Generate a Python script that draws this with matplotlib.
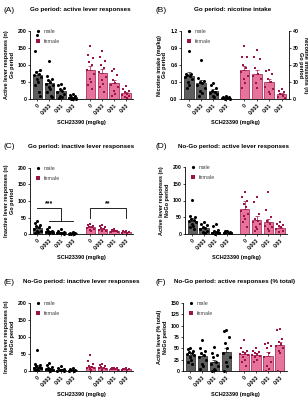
import matplotlib
matplotlib.use("Agg")
import matplotlib.pyplot as plt
from matplotlib.lines import Line2D
import numpy as np

plt.rcParams['font.family'] = ['Liberation Sans', 'DejaVu Sans']

doses = ["0", "0.003", "0.01", "0.03"]
sexes = ["male", "female"]

# ---- Panel A: Go active lever
A_mean_m = [72, 48, 24, 5]
A_mean_f = [86, 77, 47, 18]
A_sem_m = [10, 9, 4, 1.5]
A_sem_f = [12, 11, 8, 4]
A_pts_m = [[188, 142, 85, 80, 75, 72, 65, 58, 50, 40, 20, 8],
           [112, 68, 60, 55, 50, 45, 40, 35, 30, 20, 10, 5],
           [45, 40, 32, 28, 25, 20, 15, 10, 5, 2],
           [15, 12, 8, 5, 3, 2, 1, 0, 0, 0]]
A_pts_f = [[157, 128, 122, 110, 100, 85, 75, 60, 50, 40, 30],
           [142, 125, 112, 100, 90, 80, 65, 55, 45, 35, 20],
           [88, 82, 70, 55, 48, 40, 35, 25, 15, 10],
           [38, 30, 25, 20, 15, 12, 8, 5, 3]]

# ---- Panel B: Go nicotine intake
B_mean_m = [0.41, 0.28, 0.14, 0.02]
B_mean_f = [0.51, 0.45, 0.30, 0.09]
B_sem_m = [0.06, 0.05, 0.03, 0.01]
B_sem_f = [0.07, 0.06, 0.05, 0.02]
B_pts_m = [[0.85, 0.45, 0.44, 0.42, 0.40, 0.38, 0.35, 0.30, 0.25, 0.20],
           [0.69, 0.37, 0.32, 0.30, 0.28, 0.25, 0.20, 0.15, 0.10, 0.05],
           [0.28, 0.25, 0.20, 0.15, 0.12, 0.10, 0.08, 0.05, 0.03],
           [0.06, 0.04, 0.03, 0.02, 0.01, 0.01, 0.0, 0.0]]
B_pts_f = [[0.93, 0.75, 0.74, 0.60, 0.55, 0.48, 0.40, 0.35, 0.28, 0.20],
           [0.87, 0.75, 0.70, 0.55, 0.45, 0.40, 0.35, 0.28, 0.20],
           [0.52, 0.50, 0.45, 0.35, 0.30, 0.22, 0.18, 0.12, 0.08],
           [0.17, 0.15, 0.12, 0.08, 0.05, 0.03, 0.02]]

# ---- Panel C: Go inactive lever
C_mean_m = [17, 8, 5, 2]
C_mean_f = [20, 16, 10, 6]
C_sem_m = [3, 2, 1.5, 0.5]
C_sem_f = [3, 3, 1.5, 1]
C_pts_m = [[38, 32, 28, 25, 20, 15, 10, 8, 5, 3],
           [22, 15, 10, 8, 6, 5, 3, 2],
           [15, 10, 6, 4, 3, 2, 1],
           [5, 3, 2, 1, 1, 0]]
C_pts_f = [[30, 28, 25, 22, 20, 18, 15, 12, 10],
           [28, 25, 20, 18, 15, 12, 10, 8],
           [15, 12, 10, 9, 8, 7, 5],
           [10, 8, 7, 5, 4, 3]]

# ---- Panel D: NoGo active lever
D_mean_m = [40, 18, 7, 5]
D_mean_f = [75, 42, 35, 18]
D_sem_m = [8, 4, 3, 1]
D_sem_f = [25, 11, 11, 4]
D_pts_m = [[101, 55, 50, 45, 42, 38, 35, 30, 25, 20, 15],
           [35, 30, 28, 22, 18, 15, 10, 5, 3],
           [30, 25, 12, 8, 5, 3, 2, 1],
           [10, 8, 6, 5, 4, 3, 2]]
D_pts_f = [[125, 110, 100, 90, 80, 70, 60, 55, 45, 35, 20],
           [110, 95, 60, 45, 40, 35, 30, 20, 15, 10],
           [125, 72, 51, 40, 30, 25, 20, 15, 10],
           [35, 30, 28, 25, 20, 15, 10, 5]]

# ---- Panel E: NoGo inactive lever
E_mean_m = [12, 7, 4, 2]
E_mean_f = [12, 10, 7, 5]
E_sem_m = [6, 2, 1.5, 1]
E_sem_f = [4, 2, 1, 1]
E_pts_m = [[62, 20, 18, 15, 12, 10, 8, 5, 3, 2],
           [25, 18, 12, 8, 6, 5, 3, 2, 1],
           [16, 8, 5, 3, 2, 1, 0],
           [8, 5, 3, 2, 1, 0]]
E_pts_f = [[46, 28, 20, 15, 12, 10, 8, 5, 3],
           [22, 18, 15, 12, 10, 8, 5, 3],
           [10, 9, 8, 7, 6, 5, 4],
           [8, 7, 6, 5, 4, 3]]

# ---- Panel F: NoGo active responses (% total)
F_mean_m = [35, 32, 19, 41]
F_mean_f = [37, 36, 34, 57]
F_sem_m = [4, 6, 5, 10]
F_sem_f = [5, 4, 7, 8]
F_pts_m = [[50, 48, 45, 42, 40, 38, 35, 30, 25, 20, 15],
           [68, 50, 45, 40, 35, 30, 25, 15, 10, 5],
           [52, 40, 35, 30, 20, 15, 10, 5, 2, 0],
           [90, 88, 75, 62, 50, 40, 30, 20, 10, 0]]
F_pts_f = [[68, 50, 45, 42, 40, 38, 35, 30, 25, 20, 10],
           [50, 45, 42, 40, 38, 35, 32, 30, 25, 20],
           [62, 60, 55, 50, 40, 30, 20, 10, 5, 0],
           [93, 90, 70, 65, 60, 55, 50, 45, 40, 0]]

titles = ["Go period: active lever responses",
          "Go period: nicotine intake",
          "Go period: inactive lever responses",
          "No-Go period: active lever responses",
          "No-Go period: inactive lever responses",
          "No-Go period: active responses (% total)"]
ylabels = ["Active lever responses (n)\nGo period",
           "Nicotine intake (mg/kg)\nGo period",
           "Inactive lever responses (n)\nGo period",
           "Active lever responses (n)\nNoGo period",
           "Inactive lever responses (n)\nNoGo period",
           "Active lever (% total)\nNoGo period"]
letters = ["(A)", "(B)", "(C)", "(D)", "(E)", "(F)"]
xlabel = "SCH23390 (mg/kg)"
B_right_label = "Nicotine infusions (n)\nGo period"
B_right_ticks = [0, 10, 20, 30, 40]
C_stars = ["***", "**"]

yticks_list = [[0, 50, 100, 150, 200],
               [0.0, 0.3, 0.6, 0.9, 1.2],
               [0, 50, 100, 150, 200],
               [0, 50, 100, 150, 200],
               [0, 50, 100, 150, 200],
               [0, 25, 50, 75, 100, 125, 150]]
ytick_fmt = [None, "{:.1f}", None, None, None, None]

panels = [
    (A_mean_m, A_mean_f, A_sem_m, A_sem_f, A_pts_m, A_pts_f),
    (B_mean_m, B_mean_f, B_sem_m, B_sem_f, B_pts_m, B_pts_f),
    (C_mean_m, C_mean_f, C_sem_m, C_sem_f, C_pts_m, C_pts_f),
    (D_mean_m, D_mean_f, D_sem_m, D_sem_f, D_pts_m, D_pts_f),
    (E_mean_m, E_mean_f, E_sem_m, E_sem_f, E_pts_m, E_pts_f),
    (F_mean_m, F_mean_f, F_sem_m, F_sem_f, F_pts_m, F_pts_f),
]

W, H = 308, 400
fig = plt.figure(figsize=(W / 100, H / 100), dpi=100)

# axes boxes in pixels: left, top, right, bottom
boxes = [(30, 31, 133, 99), (181, 31, 289, 99),
         (30, 168, 133, 234), (185, 167, 287, 234),
         (30, 303, 133, 371), (183, 303, 287, 371)]
title_y = [10, 10, 147, 147, 282, 282]
title_x = [80, 233, 81, 234, 81, 235]

male_bar = "#5e5e5e"
male_edge = "#222222"
male_pt = "#000000"
fem_bar = "#e5739c"
fem_edge = "#a0164a"
fem_pt = "#9a1446"

pos_m = np.array([0, 1, 2, 3])
pos_f = np.array([4.5, 5.5, 6.5, 7.5])
offs = [0, -0.22, 0.22, -0.11, 0.11, -0.3, 0.3, -0.05, 0.05, -0.17, 0.17, 0.25]

tick_fs = 3.7
lab_fs = 4.0
title_fs = 4.5

for i, (ax_box, data) in enumerate(zip(boxes, panels)):
    l, t, r, b = ax_box
    ax = fig.add_axes([l / W, 1 - b / H, (r - l) / W, (b - t) / H])
    mm, mf, sm, sf, pm, pf = data
    ax.bar(pos_m, mm, width=0.78, color=male_bar, edgecolor=male_edge, linewidth=0.5, zorder=2)
    ax.bar(pos_f, mf, width=0.78, color=fem_bar, edgecolor=fem_edge, linewidth=0.5, zorder=2)
    ax.errorbar(pos_m, mm, yerr=[np.zeros(4), sm], fmt='none', ecolor=male_edge,
                elinewidth=0.5, capsize=1.2, capthick=0.5, zorder=3)
    ax.errorbar(pos_f, mf, yerr=[np.zeros(4), sf], fmt='none', ecolor=fem_edge,
                elinewidth=0.5, capsize=1.2, capthick=0.5, zorder=3)
    for k in range(4):
        ys = pm[k]
        xs = [pos_m[k] + offs[j % len(offs)] for j in range(len(ys))]
        ax.plot(xs, ys, 'o', color=male_pt, ms=2.2, mew=0, zorder=4, clip_on=False)
        ys = pf[k]
        xs = [pos_f[k] + offs[j % len(offs)] for j in range(len(ys))]
        ax.plot(xs, ys, 's', color=fem_pt, ms=2.0, mew=0, zorder=4, clip_on=False)

    yt = yticks_list[i]
    ax.set_ylim(yt[0], yt[-1])
    ax.set_yticks(yt)
    if ytick_fmt[i]:
        ax.set_yticklabels([ytick_fmt[i].format(v) for v in yt])
    ax.set_xlim(-0.62, 8.1)
    ax.set_xticks(list(pos_m) + list(pos_f))
    ax.set_xticklabels(doses + doses, rotation=45, ha='right', rotation_mode='anchor')
    ax.tick_params(axis='both', labelsize=tick_fs, width=0.5, length=1.5, pad=1)
    ax.tick_params(axis='x', pad=1.5)
    for lab in ax.get_xticklabels() + ax.get_yticklabels():
        lab.set_fontweight('bold')
    for s in ['top', 'right']:
        ax.spines[s].set_visible(False)
    for s in ['left', 'bottom']:
        ax.spines[s].set_linewidth(0.6)
    ax.set_ylabel(ylabels[i], fontsize=lab_fs, fontweight='bold', labelpad=2, linespacing=1.1)
    ax.set_xlabel(xlabel, fontsize=lab_fs, fontweight='bold', labelpad=2.5)

    handles = [Line2D([], [], marker='o', ls='none', color=male_pt, ms=2.3, mew=0),
               Line2D([], [], marker='s', ls='none', color=fem_pt, ms=2.3, mew=0)]
    leg = ax.legend(handles, sexes, loc='upper left', bbox_to_anchor=(0.03, 1.06),
                    frameon=False, fontsize=3.9, labelspacing=0.9, handletextpad=0.6,
                    handlelength=1.0, borderaxespad=0)
    for txt in leg.get_texts():
        txt.set_color("#444444")

    fig.text(title_x[i] / W, 1 - title_y[i] / H, titles[i], fontsize=title_fs,
             fontweight='bold', ha='center', va='center')
    fig.text((3 if i % 2 == 0 else 155) / W, 1 - title_y[i] / H, letters[i],
             fontsize=6, ha='left', va='center')

    if i == 1:
        ax2 = ax.twinx()
        ax2.set_ylim(B_right_ticks[0], B_right_ticks[-1])
        ax2.set_yticks(B_right_ticks)
        ax2.tick_params(axis='y', labelsize=tick_fs, width=0.5, length=1.5, pad=1)
        for lab in ax2.get_yticklabels():
            lab.set_fontweight('bold')
        for s in ['top', 'left', 'bottom']:
            ax2.spines[s].set_visible(False)
        ax2.spines['right'].set_linewidth(0.6)
        ax2.set_ylabel(B_right_label, fontsize=lab_fs, fontweight='bold', rotation=270,
                       labelpad=7, linespacing=1.1)
    if i == 2:
        # male bracket: control vs other doses
        ax.plot([0, 2, 2], [78, 78, 39], color='black', lw=0.6)
        ax.plot([1, 3], [39, 39], color='black', lw=0.6)
        ax.text(1, 82, C_stars[0], fontsize=5, ha='center', va='bottom', fontweight='bold')
        # female bracket
        ax.plot([4.5, 4.5, 7.5, 7.5], [50, 78, 78, 50], color='black', lw=0.6)
        ax.text(6.0, 82, C_stars[1], fontsize=5, ha='center', va='bottom', fontweight='bold')

fig.savefig("out.png", dpi=100)
